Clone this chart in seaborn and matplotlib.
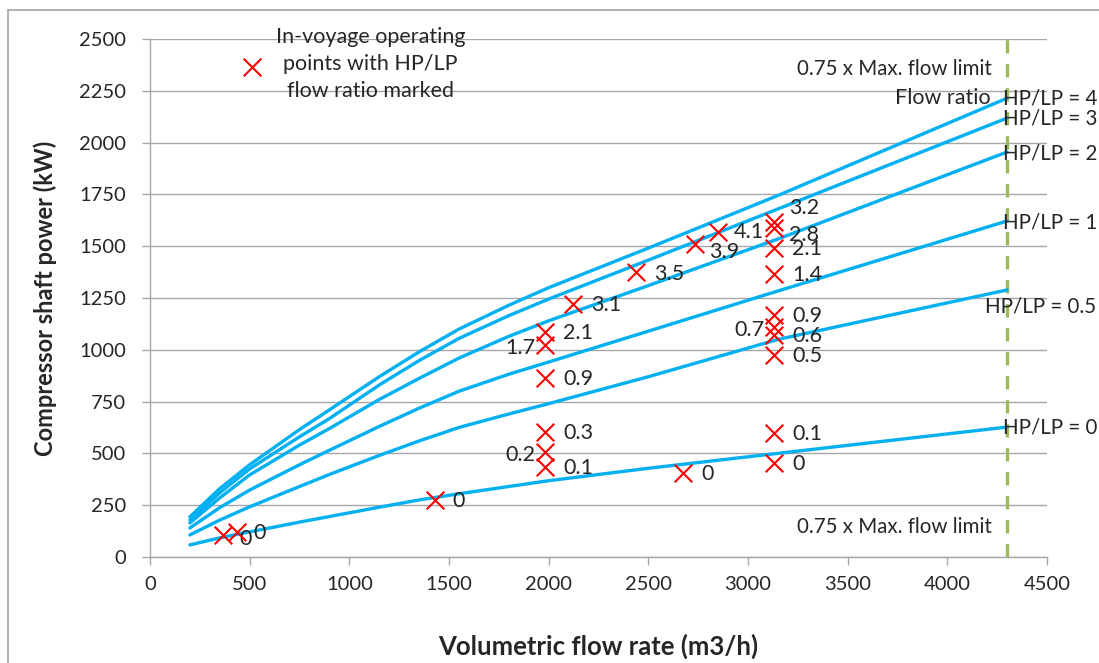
import pandas as pd
import numpy as np
import seaborn as sns
import matplotlib.pyplot as plt
from matplotlib.lines import Line2D

# curvas de potencia por razao de vazao HP/LP
flow = [200, 350, 500, 750, 900, 1150, 1350, 1550, 1800, 2000, 2500, 3150, 4300]
p_r4 = [193, 330, 445, 615, 710, 870, 990, 1100, 1215, 1300, 1491, 1745, 2215]
p_r3 = [178, 310, 425, 580, 668, 830, 948, 1055, 1165, 1245, 1433, 1680, 2119]
p_r2 = [164, 285, 396, 540, 620, 760, 862, 960, 1065, 1140, 1310, 1535, 1955]
p_r1 = [140, 238, 323, 445, 515, 630, 718, 800, 882, 941, 1090, 1284, 1622]
p_r05 = [106, 178, 242, 340, 398, 490, 560, 625, 690, 740, 870, 1050, 1289]
p_r0 = [58, 92, 121, 168, 195, 240, 275, 305, 340, 368, 428, 500, 627]

# pontos de operacao em viagem
pt_x = [366, 437, 1428, 1982, 1982, 1982, 1982, 1982, 1982, 2122, 2438, 2735, 2850,
        2675, 3130, 3130, 3130, 3130, 3130, 3130, 3130, 3130, 3130, 3130]
pt_y = [106, 121, 275, 603, 507, 434, 864, 1086, 1023, 1221, 1375, 1511, 1568,
        405, 1617, 1588, 1491, 1366, 1168, 1110, 1071, 975, 598, 454]
pt_lab = ['0', '0', '0', '0.3', '0.2', '0.1', '0.9', '2.1', '1.7', '3.1', '3.5', '3.9', '4.1',
          '0', '3.2', '2.8', '2.1', '1.4', '0.9', '0.7', '0.6', '0.5', '0.1', '0']

flow_limit = 4300
ratio_labels = ['HP/LP = 4', 'HP/LP = 3', 'HP/LP = 2', 'HP/LP = 1', 'HP/LP = 0.5', 'HP/LP = 0']

# %%
curvas = {'4': p_r4, '3': p_r3, '2': p_r2, '1': p_r1, '0.5': p_r05, '0': p_r0}
df_curvas = pd.concat([pd.DataFrame({'flow': flow, 'power': v, 'ratio': k})
                       for k, v in curvas.items()])
df_pontos = pd.DataFrame({'flow': pt_x, 'power': pt_y, 'label': pt_lab})

sns.set_theme(style='white')
plt.rcParams['font.family'] = ['Lato', 'DejaVu Sans']

fig = plt.figure(figsize=(10.99, 6.63), dpi=100)
ax = fig.add_axes([0.1365, 0.160, 0.8162, 0.781])

azul = '#00B0F0'
sns.lineplot(data=df_curvas, x='flow', y='power', units='ratio', estimator=None,
             color=azul, lw=2.4, ax=ax, legend=False)
ax.axvline(flow_limit, color='#9BBB59', lw=2.4, ls=(0, (4, 3.2)), zorder=1)

sns.scatterplot(data=df_pontos, x='flow', y='power', marker='x', color='red', s=160,
                linewidth=1.5, ax=ax, zorder=5, label='In-voyage operating\npoints with HP/LP\nflow ratio marked')

# rotulos dos pontos (alguns a esquerda)
esquerda = {4, 8, 19}
offsets = {11: (10, -6), 12: (11, 0), 14: (11, 10), 15: (11, -5), 0: (12, -3), 1: (12, -1)}
for i, (x, y, t) in enumerate(zip(pt_x, pt_y, pt_lab)):
    if i in esquerda:
        ax.annotate(t, (x, y), xytext=(-7, -2), textcoords='offset points',
                    ha='right', va='center', fontsize=15.5)
    else:
        dx, dy = offsets.get(i, (13, -1))
        ax.annotate(t, (x, y), xytext=(dx, dy), textcoords='offset points',
                    ha='left', va='center', fontsize=15.5)

# rotulos das curvas
lab_pos = [(4280, 2215), (4280, 2119), (4280, 1950), (4280, 1617), (4190, 1207), (4280, 627)]
for t, (x, y) in zip(ratio_labels, lab_pos):
    ax.text(x, y, t, ha='left', va='center', fontsize=14.8, clip_on=False)
ax.text(4215, 2215, 'Flow ratio', ha='right', va='center', fontsize=15.5)
ax.text(4225, 2355, '0.75 x Max. flow limit', ha='right', va='center', fontsize=14.8)
ax.text(4225, 145, '0.75 x Max. flow limit', ha='right', va='center', fontsize=14.8)

ax.set_xlim(0, 4500)
ax.set_ylim(0, 2500)
ax.set_xticks(np.arange(0, 4501, 500))
ax.set_yticks(np.arange(0, 2501, 250))
ax.yaxis.grid(True, color='#A6A6A6', lw=1)
ax.xaxis.grid(False)
for s in ['top', 'right']:
    ax.spines[s].set_visible(False)
for s in ['left', 'bottom']:
    ax.spines[s].set_color('#A6A6A6')
    ax.spines[s].set_linewidth(1)
ax.tick_params(axis='both', which='major', direction='out', length=6, width=1,
               color='#A6A6A6', labelsize=14.5, left=True, bottom=True)
ax.tick_params(axis='x', pad=8)
ax.tick_params(axis='y', pad=11)

ax.set_xlabel('Volumetric flow rate (m3/h)', fontsize=18.5, fontweight='bold', labelpad=29)
ax.set_ylabel('Compressor shaft power (kW)', fontsize=17, fontweight='bold', labelpad=16)

leg = ax.legend(loc='upper left', bbox_to_anchor=(0.09, 1.04), frameon=False,
                fontsize=15.5, handletextpad=0.5, borderaxespad=0, handlelength=1.2)
for t in leg.get_texts():
    t.set_multialignment('center')
    t.set_linespacing(1.45)

# moldura do grafico
fig.add_artist(Line2D([8 / 1099, 8 / 1099], [0, 1 - 10 / 663], color='#A6A6A6', lw=1.2))
fig.add_artist(Line2D([8 / 1099, 1], [1 - 10 / 663, 1 - 10 / 663], color='#A6A6A6', lw=1.2))

fig.savefig('out.png', dpi=100)
